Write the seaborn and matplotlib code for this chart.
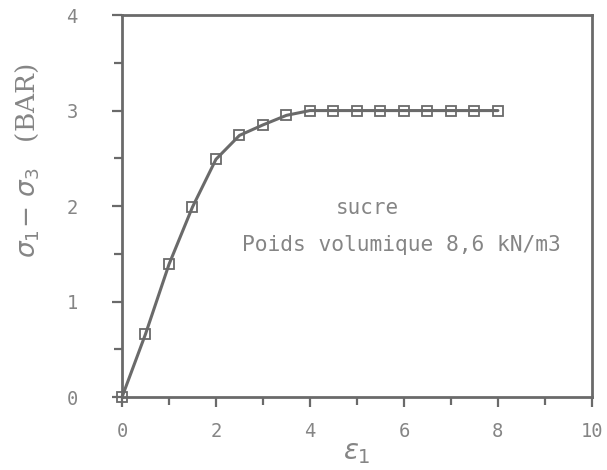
import matplotlib
matplotlib.use("Agg")
import matplotlib.pyplot as plt
import seaborn as sns
import pandas as pd
import numpy as np

strain = [0, 0.5, 1, 1.5, 2, 2.5, 3, 3.5, 4, 4.5, 5, 5.5, 6, 6.5, 7, 7.5, 8]
stress = [0, 0.66, 1.39, 1.99, 2.49, 2.74, 2.85, 2.95, 3.0, 3.0, 3.0, 3.0, 3.0, 3.0, 3.0, 3.0, 3.0]
xticks = [0, 2, 4, 6, 8, 10]
yticks = [0, 1, 2, 3, 4]

sns.set_style("white")
plt.rcParams['font.family'] = ['DejaVu Sans']
line_gray = "#6a6a6a"
text_gray = "#858585"

df = pd.DataFrame({"eps": strain, "dev": stress})
fig = plt.figure(figsize=(6.07, 4.70), dpi=100)
ax = fig.add_axes([0.201, 0.155, 0.774, 0.813])
sns.lineplot(data=df, x="eps", y="dev", ax=ax, color=line_gray, linewidth=2.2,
             marker="s", markersize=7, markerfacecolor="none",
             markeredgecolor=line_gray, markeredgewidth=1.3, clip_on=False, zorder=3)

ax.set_xlim(0, 10)
ax.set_ylim(0, 4)
ax.set_xticks(xticks)
ax.set_yticks(yticks)
ax.set_xticks(np.arange(1, 10, 2), minor=True)
ax.set_yticks(np.arange(0.5, 4, 1), minor=True)
ax.tick_params(axis="both", which="both", direction="out", length=7, width=1.6,
               color=line_gray, labelcolor=text_gray, labelsize=13.5,
               bottom=True, left=True)
ax.tick_params(axis="both", which="minor", length=6)
ax.tick_params(axis="x", which="major", pad=11)
ax.tick_params(axis="y", which="major", pad=25)
for lab in ax.get_xticklabels() + ax.get_yticklabels():
    lab.set_family("DejaVu Sans Mono")
for s in ax.spines.values():
    s.set_color(line_gray)
    s.set_linewidth(2)

ax.set_xlabel(r"$\varepsilon_1$", fontsize=20, color=text_gray, family="serif")
ax.xaxis.set_label_coords(0.50, -0.11)
ax.set_ylabel(r"$\sigma_1\!-\,\sigma_3$   (BAR)", fontsize=19, color=text_gray, family="serif")
ax.yaxis.set_label_coords(-0.172, 0.62)

ax.text(5.23, 1.98, "sucre", ha="center", va="center", fontsize=15,
        color=text_gray, family="DejaVu Sans Mono")
ax.text(5.94, 1.59, "Poids volumique 8,6 kN/m3", ha="center", va="center", fontsize=15.3,
        color=text_gray, family="DejaVu Sans Mono")

fig.savefig("out.png", dpi=100)
